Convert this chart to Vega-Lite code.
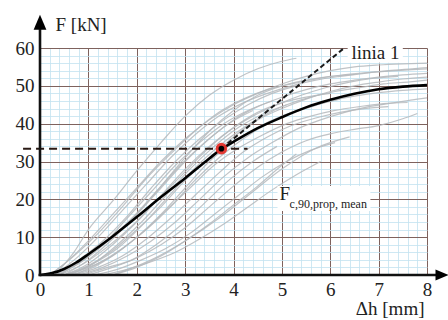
{
"$schema":"https://vega.github.io/schema/vega-lite/v6.json",
"width":387,"height":227,
"autosize":{"type":"none"},
"padding":{"left":40,"top":48,"right":21,"bottom":45},
"background":"white",
"config":{"view":{"stroke":null},"font":"Liberation Serif, Times New Roman, DejaVu Serif, serif","axis":{"labelFont":"Liberation Serif, Times New Roman, DejaVu Serif, serif","titleFont":"Liberation Serif, Times New Roman, DejaVu Serif, serif","labelFontSize":19,"titleFontSize":19,"labelColor":"#222","titleColor":"#222","titleFontWeight":"normal"}},
"datasets":{
"curves":[
{"c":1,"x":0.3,"y":0},{"c":1,"x":0.7,"y":6},{"c":1,"x":1,"y":12},{"c":1,"x":1.5,"y":19.5},{"c":1,"x":2,"y":27.5},{"c":1,"x":2.5,"y":35},{"c":1,"x":3,"y":42},{"c":1,"x":3.5,"y":47.5},{"c":1,"x":4,"y":51.5},{"c":1,"x":4.5,"y":54.5},{"c":1,"x":5,"y":56.5},{"c":1,"x":5.3,"y":57.3},
{"c":2,"x":0.2,"y":0},{"c":2,"x":0.6,"y":4},{"c":2,"x":1,"y":9},{"c":2,"x":1.5,"y":16},{"c":2,"x":2,"y":23},{"c":2,"x":2.5,"y":30},{"c":2,"x":3,"y":36},{"c":2,"x":3.5,"y":41},{"c":2,"x":4,"y":45},{"c":2,"x":4.5,"y":48},{"c":2,"x":5,"y":50.5},{"c":2,"x":5.5,"y":52.5},{"c":2,"x":6,"y":54},{"c":2,"x":6.5,"y":55},{"c":2,"x":7,"y":55.5},{"c":2,"x":7.5,"y":55.8},{"c":2,"x":8,"y":56},
{"c":3,"x":0.3,"y":0},{"c":3,"x":0.8,"y":5},{"c":3,"x":1.2,"y":10},{"c":3,"x":1.7,"y":17},{"c":3,"x":2.2,"y":24},{"c":3,"x":2.7,"y":31},{"c":3,"x":3.2,"y":37},{"c":3,"x":3.7,"y":42},{"c":3,"x":4.2,"y":45.5},{"c":3,"x":4.7,"y":48},{"c":3,"x":5.2,"y":50},{"c":3,"x":5.7,"y":51.5},{"c":3,"x":6.2,"y":52.5},{"c":3,"x":6.7,"y":53.3},{"c":3,"x":7.2,"y":54},{"c":3,"x":7.7,"y":54.5},{"c":3,"x":8,"y":54.8},
{"c":4,"x":0.4,"y":0},{"c":4,"x":1,"y":5},{"c":4,"x":1.5,"y":10},{"c":4,"x":2,"y":16},{"c":4,"x":2.5,"y":23},{"c":4,"x":3,"y":30},{"c":4,"x":3.5,"y":36},{"c":4,"x":4,"y":41},{"c":4,"x":4.5,"y":44.5},{"c":4,"x":5,"y":47},{"c":4,"x":5.5,"y":49},{"c":4,"x":6,"y":50.5},{"c":4,"x":6.5,"y":51.5},{"c":4,"x":7,"y":52.3},{"c":4,"x":7.5,"y":52.9},{"c":4,"x":8,"y":53.3},
{"c":5,"x":0.5,"y":0},{"c":5,"x":1,"y":3},{"c":5,"x":1.5,"y":8},{"c":5,"x":2,"y":14},{"c":5,"x":2.5,"y":21},{"c":5,"x":3,"y":28},{"c":5,"x":3.5,"y":34},{"c":5,"x":4,"y":39},{"c":5,"x":4.5,"y":43},{"c":5,"x":5,"y":45.5},{"c":5,"x":5.5,"y":47},{"c":5,"x":6,"y":48},
{"c":6,"x":0.3,"y":0},{"c":6,"x":0.8,"y":3},{"c":6,"x":1.3,"y":8},{"c":6,"x":1.8,"y":15},{"c":6,"x":2.3,"y":22},{"c":6,"x":2.8,"y":29},{"c":6,"x":3.3,"y":35},{"c":6,"x":3.8,"y":40},{"c":6,"x":4.3,"y":43.5},{"c":6,"x":4.8,"y":46},
{"c":7,"x":0.6,"y":0},{"c":7,"x":1.1,"y":3},{"c":7,"x":1.6,"y":7},{"c":7,"x":2.1,"y":13},{"c":7,"x":2.6,"y":20},{"c":7,"x":3.1,"y":27},{"c":7,"x":3.6,"y":33},{"c":7,"x":4.1,"y":38},{"c":7,"x":4.6,"y":42},{"c":7,"x":5.1,"y":45},{"c":7,"x":5.6,"y":47},{"c":7,"x":6.1,"y":48.5},{"c":7,"x":6.6,"y":49.5},{"c":7,"x":7.1,"y":50.5},{"c":7,"x":7.6,"y":51},{"c":7,"x":8,"y":51.5},
{"c":8,"x":0.5,"y":0},{"c":8,"x":1,"y":2},{"c":8,"x":1.5,"y":5},{"c":8,"x":2,"y":10},{"c":8,"x":2.5,"y":16},{"c":8,"x":3,"y":23},{"c":8,"x":3.5,"y":30},{"c":8,"x":4,"y":35},{"c":8,"x":4.5,"y":39},{"c":8,"x":5,"y":42},{"c":8,"x":5.5,"y":44},{"c":8,"x":6,"y":46},{"c":8,"x":6.5,"y":47.3},{"c":8,"x":7,"y":48.2},{"c":8,"x":7.5,"y":48.8},{"c":8,"x":8,"y":49.2},
{"c":9,"x":0.8,"y":0},{"c":9,"x":1.3,"y":2},{"c":9,"x":1.8,"y":5},{"c":9,"x":2.3,"y":9},{"c":9,"x":2.8,"y":14},{"c":9,"x":3.3,"y":20},{"c":9,"x":3.8,"y":26},{"c":9,"x":4.3,"y":31},{"c":9,"x":4.8,"y":35},{"c":9,"x":5.3,"y":38.5},{"c":9,"x":5.8,"y":41},{"c":9,"x":6.3,"y":43},{"c":9,"x":6.8,"y":44.5},{"c":9,"x":7.3,"y":45.5},{"c":9,"x":7.8,"y":46.5},{"c":9,"x":8,"y":46.8},
{"c":10,"x":1,"y":0},{"c":10,"x":1.5,"y":2},{"c":10,"x":2,"y":4.5},{"c":10,"x":2.5,"y":8},{"c":10,"x":3,"y":12.5},{"c":10,"x":3.5,"y":18},{"c":10,"x":4,"y":23.5},{"c":10,"x":4.5,"y":28.5},{"c":10,"x":5,"y":32.5},{"c":10,"x":5.5,"y":35.5},{"c":10,"x":6,"y":37.3},{"c":10,"x":6.5,"y":38.5},{"c":10,"x":7,"y":39.5},{"c":10,"x":7.5,"y":41.3},{"c":10,"x":7.8,"y":42.7},
{"c":11,"x":1.5,"y":0},{"c":11,"x":2.3,"y":4},{"c":11,"x":3,"y":9},{"c":11,"x":3.7,"y":15},{"c":11,"x":4.3,"y":21},{"c":11,"x":5,"y":28},{"c":11,"x":5.7,"y":33.5},{"c":11,"x":6.4,"y":36.5},
{"c":12,"x":1.5,"y":0},{"c":12,"x":2,"y":2},{"c":12,"x":2.5,"y":5},{"c":12,"x":3,"y":9},{"c":12,"x":3.5,"y":13.5},{"c":12,"x":4,"y":18.5},{"c":12,"x":4.5,"y":23.5},{"c":12,"x":5,"y":29},{"c":12,"x":5.3,"y":32},
{"c":13,"x":0.7,"y":0},{"c":13,"x":1.2,"y":3},{"c":13,"x":1.7,"y":7},{"c":13,"x":2.2,"y":12},{"c":13,"x":2.7,"y":18},{"c":13,"x":3.2,"y":25},{"c":13,"x":3.7,"y":31},{"c":13,"x":4.2,"y":36},{"c":13,"x":4.7,"y":40},{"c":13,"x":5.2,"y":43},{"c":13,"x":5.7,"y":45},{"c":13,"x":6.2,"y":46.5},
{"c":14,"x":0.4,"y":0},{"c":14,"x":0.9,"y":4},{"c":14,"x":1.4,"y":9},{"c":14,"x":1.9,"y":15},{"c":14,"x":2.4,"y":22},{"c":14,"x":2.9,"y":29},{"c":14,"x":3.4,"y":35},{"c":14,"x":3.9,"y":40},{"c":14,"x":4.4,"y":43.5},
{"c":15,"x":0.6,"y":0},{"c":15,"x":1.1,"y":2},{"c":15,"x":1.6,"y":6},{"c":15,"x":2.1,"y":11},{"c":15,"x":2.6,"y":17},{"c":15,"x":3.1,"y":23},{"c":15,"x":3.6,"y":29},{"c":15,"x":4.1,"y":33.5},{"c":15,"x":4.6,"y":37},{"c":15,"x":5.1,"y":40},{"c":15,"x":5.6,"y":42},{"c":15,"x":6.1,"y":43.5},{"c":15,"x":6.6,"y":44.5},{"c":15,"x":7.1,"y":45.3},{"c":15,"x":7.6,"y":45.6},
{"c":16,"x":0.2,"y":0},{"c":16,"x":0.7,"y":5},{"c":16,"x":1.2,"y":11},{"c":16,"x":1.7,"y":18},{"c":16,"x":2.2,"y":25.5},{"c":16,"x":2.7,"y":32},{"c":16,"x":3.2,"y":38},{"c":16,"x":3.7,"y":43},{"c":16,"x":4.2,"y":46.5},{"c":16,"x":4.7,"y":49},{"c":16,"x":5.2,"y":50.5},{"c":16,"x":5.7,"y":51.8},{"c":16,"x":6.2,"y":52.8},{"c":16,"x":6.7,"y":53.4},{"c":16,"x":7.2,"y":53.9},{"c":16,"x":7.7,"y":54.3},{"c":16,"x":8,"y":54.5},
{"c":17,"x":0.9,"y":0},{"c":17,"x":1.4,"y":2},{"c":17,"x":1.9,"y":4},{"c":17,"x":2.4,"y":8},{"c":17,"x":2.9,"y":13},{"c":17,"x":3.4,"y":19},{"c":17,"x":3.9,"y":25},{"c":17,"x":4.4,"y":30},{"c":17,"x":4.9,"y":34},
{"c":18,"x":0.5,"y":0},{"c":18,"x":1,"y":2.5},{"c":18,"x":1.5,"y":6.5},{"c":18,"x":2,"y":12},{"c":18,"x":2.5,"y":18},{"c":18,"x":3,"y":25},{"c":18,"x":3.5,"y":31},{"c":18,"x":4,"y":36.5},{"c":18,"x":4.5,"y":41},{"c":18,"x":5,"y":44},{"c":18,"x":5.5,"y":46.5},{"c":18,"x":6,"y":48.5},{"c":18,"x":6.5,"y":50},{"c":18,"x":7,"y":51},{"c":18,"x":7.5,"y":51.8},{"c":18,"x":8,"y":52.3},
{"c":19,"x":1.1,"y":0},{"c":19,"x":1.6,"y":1.5},{"c":19,"x":2.1,"y":4},{"c":19,"x":2.6,"y":7},{"c":19,"x":3.1,"y":11},{"c":19,"x":3.6,"y":16},{"c":19,"x":4.1,"y":21},{"c":19,"x":4.6,"y":26},{"c":19,"x":5.1,"y":30},{"c":19,"x":5.6,"y":33},{"c":19,"x":6.1,"y":35},
{"c":20,"x":0.4,"y":0},{"c":20,"x":0.9,"y":3},{"c":20,"x":1.4,"y":7.5},{"c":20,"x":1.9,"y":13},{"c":20,"x":2.4,"y":19.5},{"c":20,"x":2.9,"y":26},{"c":20,"x":3.4,"y":32.5},{"c":20,"x":3.9,"y":38},{"c":20,"x":4.4,"y":42},{"c":20,"x":4.9,"y":45},{"c":20,"x":5.4,"y":47.5},{"c":20,"x":5.9,"y":49.5},{"c":20,"x":6.4,"y":51},{"c":20,"x":6.9,"y":52},{"c":20,"x":7.4,"y":52.5},
{"c":21,"x":0.3,"y":0},{"c":21,"x":0.8,"y":4},{"c":21,"x":1.3,"y":9},{"c":21,"x":1.8,"y":15.5},{"c":21,"x":2.3,"y":23},{"c":21,"x":2.8,"y":30},{"c":21,"x":3.3,"y":36},{"c":21,"x":3.8,"y":41},{"c":21,"x":4.3,"y":45},{"c":21,"x":4.8,"y":48},{"c":21,"x":5.3,"y":50},
{"c":22,"x":0.7,"y":0},{"c":22,"x":1.2,"y":2},{"c":22,"x":1.7,"y":5},{"c":22,"x":2.2,"y":9.5},{"c":22,"x":2.7,"y":15},{"c":22,"x":3.2,"y":21},{"c":22,"x":3.7,"y":27},{"c":22,"x":4.2,"y":32.5},{"c":22,"x":4.7,"y":36.5},{"c":22,"x":5.2,"y":39.5},{"c":22,"x":5.7,"y":41.5},{"c":22,"x":6.2,"y":43},{"c":22,"x":6.7,"y":44},{"c":22,"x":7.2,"y":44.5},
{"c":23,"x":1.3,"y":0},{"c":23,"x":1.8,"y":1.5},{"c":23,"x":2.3,"y":3.5},{"c":23,"x":2.8,"y":6},{"c":23,"x":3.3,"y":9.5},{"c":23,"x":3.8,"y":13.5},{"c":23,"x":4.3,"y":18},{"c":23,"x":4.8,"y":22.5},{"c":23,"x":5.3,"y":26.5},{"c":23,"x":5.8,"y":30},
{"c":24,"x":0.5,"y":0},{"c":24,"x":1,"y":4},{"c":24,"x":1.5,"y":9.5},{"c":24,"x":2,"y":16},{"c":24,"x":2.5,"y":23.5},{"c":24,"x":3,"y":31},{"c":24,"x":3.5,"y":38},{"c":24,"x":4,"y":43.5},{"c":24,"x":4.5,"y":47.5},{"c":24,"x":5,"y":50},{"c":24,"x":5.5,"y":51.5},{"c":24,"x":6,"y":52.5},{"c":24,"x":6.5,"y":53},
{"c":25,"x":0.6,"y":0},{"c":25,"x":1.1,"y":3},{"c":25,"x":1.6,"y":8},{"c":25,"x":2.1,"y":14},{"c":25,"x":2.6,"y":21},{"c":25,"x":3.1,"y":28},{"c":25,"x":3.6,"y":34},{"c":25,"x":4.1,"y":39},{"c":25,"x":4.6,"y":42.5},{"c":25,"x":5.1,"y":45}
],
"mean":[
{"x":0,"y":0},{"x":0.25,"y":0.5},{"x":0.5,"y":1.6},{"x":0.75,"y":3.3},{"x":1,"y":5.5},{"x":1.5,"y":10.2},{"x":2,"y":15.3},{"x":2.5,"y":20.6},{"x":3,"y":25.6},{"x":3.5,"y":30.8},{"x":3.75,"y":33.3},{"x":4,"y":35.2},{"x":4.5,"y":38.8},{"x":5,"y":41.7},{"x":5.5,"y":44.3},{"x":6,"y":46.3},{"x":6.5,"y":47.9},{"x":7,"y":49.1},{"x":7.5,"y":49.8},{"x":8,"y":50.2}
]
},
"layer":[
{"data":{"name":"curves"},
 "mark":{"type":"line","color":"#b5b9bc","strokeWidth":1.2,"opacity":0.85,"interpolate":"monotone"},
 "encoding":{
  "x":{"field":"x","type":"quantitative","scale":{"domain":[0,8],"nice":false,"zero":false},
   "axis":{"orient":"bottom","values":[0.2,0.4,0.6,0.8,1.2,1.4,1.6,1.8,2.2,2.4,2.6,2.8,3.2,3.4,3.6,3.8,4.2,4.4,4.6,4.8,5.2,5.4,5.6,5.8,6.2,6.4,6.6,6.8,7.2,7.4,7.6,7.8],"grid":true,"gridColor":"#c3e2f0","gridWidth":0.8,"gridOpacity":1,"labels":false,"ticks":false,"domain":false,"title":null}},
  "y":{"field":"y","type":"quantitative","scale":{"domain":[0,60],"nice":false,"zero":false},
   "axis":{"orient":"left","values":[2,4,6,8,12,14,16,18,22,24,26,28,32,34,36,38,42,44,46,48,52,54,56,58],"grid":true,"gridColor":"#c3e2f0","gridWidth":0.8,"gridOpacity":1,"labels":false,"ticks":false,"domain":false,"title":null}},
  "detail":{"field":"c","type":"nominal"}
 }},
{"data":{"name":"mean"},
 "mark":{"type":"line","color":"#000","strokeWidth":2.6,"interpolate":"monotone"},
 "encoding":{
  "x":{"field":"x","type":"quantitative",
   "axis":{"orient":"bottom","values":[0,1,2,3,4,5,6,7,8],"grid":true,"gridColor":"#7e625d","gridWidth":1,"gridOpacity":1,"ticks":false,"domain":false,"labelPadding":5,"labelFlush":false,"labelOverlap":false,
    "title":"Δh [mm]","titleAngle":0,"titleX":384,"titleY":39,"titleAlign":"right","titleBaseline":"alphabetic","titleFontSize":19}},
  "y":{"field":"y","type":"quantitative",
   "axis":{"orient":"left","values":[0,10,20,30,40,50,60],"grid":true,"gridColor":"#7e625d","gridWidth":1,"gridOpacity":1,"ticks":false,"domain":false,"labelPadding":6,"labelFlush":false,"labelOverlap":false,"labelBaseline":"middle",
    "title":"F [kN]","titleAngle":0,"titleX":15,"titleY":-18,"titleAlign":"left","titleBaseline":"alphabetic","titleFontSize":19}}
 }},
{"data":{"values":[{"x":6.36,"x2":7.5,"y":56.1,"y2":61.4},{"x":4.91,"x2":6.83,"y":16.9,"y2":23.5}]},
 "mark":{"type":"rect","color":"white","opacity":1},
 "encoding":{"x":{"field":"x","type":"quantitative","axis":null},"x2":{"field":"x2"},"y":{"field":"y","type":"quantitative","axis":null},"y2":{"field":"y2"}}},
{"data":{"values":[{"x":-0.35,"x2":4.29,"y":33.4}]},
 "mark":{"type":"rule","color":"#2a1a14","strokeWidth":2,"strokeDash":[8,5]},
 "encoding":{"x":{"field":"x","type":"quantitative","axis":null},"x2":{"field":"x2"},"y":{"field":"y","type":"quantitative","axis":null}}},
{"data":{"values":[{"x":3.75,"x2":6.27,"y":33.4,"y2":59.8}]},
 "mark":{"type":"rule","color":"#1a1a1a","strokeWidth":2,"strokeDash":[5,3]},
 "encoding":{"x":{"field":"x","type":"quantitative","axis":null},"x2":{"field":"x2"},"y":{"field":"y","type":"quantitative","axis":null},"y2":{"field":"y2"}}},
{"data":{"values":[{"x":3.75,"y":33.4}]},
 "mark":{"type":"point","shape":"circle","filled":true,"color":"#e4302a","size":135,"opacity":0.95},
 "encoding":{"x":{"field":"x","type":"quantitative","axis":null},"y":{"field":"y","type":"quantitative","axis":null}}},
{"data":{"values":[{"x":3.75,"y":33.4}]},
 "mark":{"type":"point","shape":"circle","filled":true,"color":"#000","size":32,"opacity":1},
 "encoding":{"x":{"field":"x","type":"quantitative","axis":null},"y":{"field":"y","type":"quantitative","axis":null}}},
{"data":{"values":[{"t":"linia 1","x":6.44,"y":57.1},{"t":"F","x":4.95,"y":19.8}]},
 "mark":{"type":"text","font":"Liberation Serif, Times New Roman, DejaVu Serif, serif","fontSize":19,"align":"left","baseline":"alphabetic","color":"#222"},
 "encoding":{"x":{"field":"x","type":"quantitative","axis":null},"y":{"field":"y","type":"quantitative","axis":null},"text":{"field":"t"}}},
{"data":{"values":[{"t":"c,90,prop, mean","x":5.16,"y":17.7}]},
 "mark":{"type":"text","font":"Liberation Serif, Times New Roman, DejaVu Serif, serif","fontSize":12,"align":"left","baseline":"alphabetic","color":"#222"},
 "encoding":{"x":{"field":"x","type":"quantitative","axis":null},"y":{"field":"y","type":"quantitative","axis":null},"text":{"field":"t"}}},
{"data":{"values":[{"x":-0.03,"x2":8.2,"y":0}]},
 "mark":{"type":"rule","color":"#111","strokeWidth":2.6},
 "encoding":{"x":{"field":"x","type":"quantitative","axis":null},"x2":{"field":"x2"},"y":{"field":"y","type":"quantitative","axis":null}}},
{"data":{"values":[{"x":0,"y":-0.3,"y2":65}]},
 "mark":{"type":"rule","color":"#111","strokeWidth":2.6},
 "encoding":{"x":{"field":"x","type":"quantitative","axis":null},"y":{"field":"y","type":"quantitative","axis":null},"y2":{"field":"y2"}}},
{"data":{"values":[{"x":0,"y":66.8}]},
 "mark":{"type":"point","shape":"M0,-1L-0.85,1L0.85,1Z","filled":true,"color":"#000","size":225,"opacity":1},
 "encoding":{"x":{"field":"x","type":"quantitative","axis":null},"y":{"field":"y","type":"quantitative","axis":null}}},
{"data":{"values":[{"x":8.31,"y":0}]},
 "mark":{"type":"point","shape":"M1,0L-1,-0.85L-1,0.85Z","filled":true,"color":"#000","size":170,"opacity":1},
 "encoding":{"x":{"field":"x","type":"quantitative","axis":null},"y":{"field":"y","type":"quantitative","axis":null}}}
],
"resolve":{"axis":{"x":"independent","y":"independent"}}
}
